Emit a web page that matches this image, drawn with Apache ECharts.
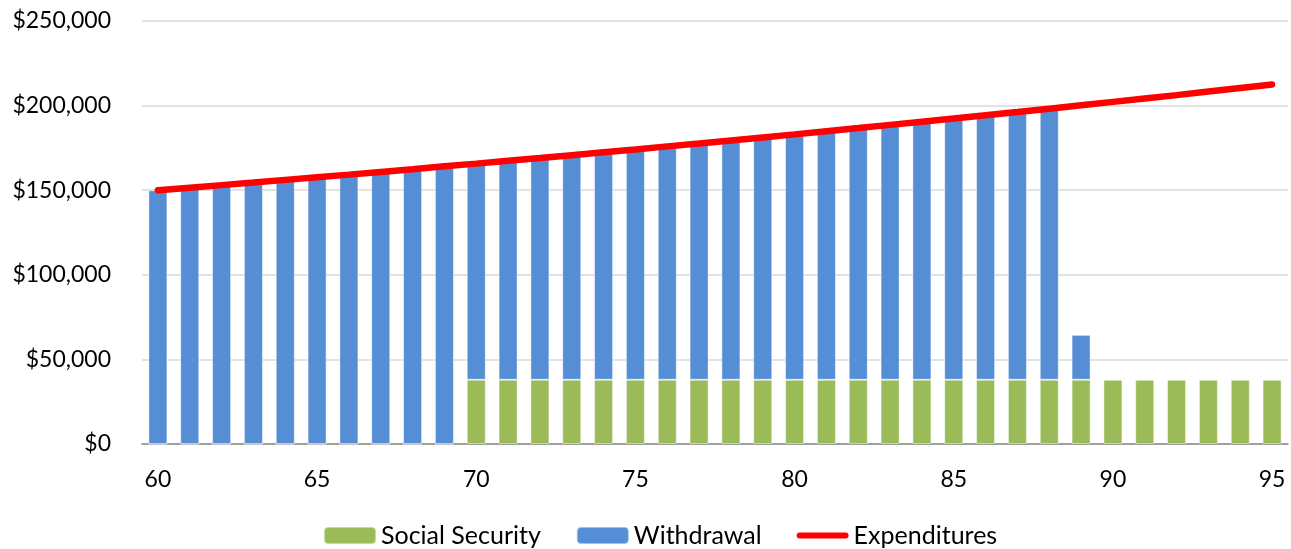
<!DOCTYPE html>
<html>
<head>
<meta charset="utf-8">
<script src="https://cdn.jsdelivr.net/npm/echarts@6/dist/echarts.min.js"></script>
<style>
  html, body { margin: 0; padding: 0; background: #fff; }
  #ec { width: 1291px; height: 549px; }
</style>
</head>
<body>
<div id="ec"></div>
<script>
var ages = [60, 61, 62, 63, 64, 65, 66, 67, 68, 69, 70, 71, 72, 73, 74, 75, 76, 77,
  78, 79, 80, 81, 82, 83, 84, 85, 86, 87, 88, 89, 90, 91, 92, 93, 94, 95];

var socialSecurity = [0, 0, 0, 0, 0, 0, 0, 0, 0, 0,
  38000, 38000, 38000, 38000, 38000, 38000, 38000, 38000, 38000, 38000,
  38000, 38000, 38000, 38000, 38000, 38000, 38000, 38000, 38000, 38000,
  38000, 38000, 38000, 38000, 38000, 38000];

var withdrawal = [150000, 151500, 153000, 154500, 156100, 157700, 159200, 160800, 162400, 164100,
  127700, 129400, 131000, 132700, 134400, 136100, 137900, 139600, 141400, 143200,
  145000, 146900, 148700, 150600, 152500, 154400, 156300, 158200, 160200, 26500,
  0, 0, 0, 0, 0, 0];

var expenditures = [150000, 151500, 153000, 154500, 156100, 157700, 159200, 160800, 162400, 164100,
  165700, 167400, 169000, 170700, 172400, 174100, 175900, 177600, 179400, 181200,
  183000, 184900, 186700, 188600, 190500, 192400, 194300, 196200, 198200, 200200,
  202200, 204200, 206200, 208300, 210400, 212500];

var yTicks = [0, 50000, 100000, 150000, 200000, 250000];

var font = "Lato, 'Liberation Sans', sans-serif";

var myChart = echarts.init(document.getElementById("ec"));

myChart.setOption({
  animation: false,
  textStyle: { fontFamily: font },
  grid: {
    left: 142,
    right: 3,
    top: 21,
    bottom: 105,
  },
  legend: {
    bottom: -4,
    left: 318,
    itemWidth: 52,
    itemHeight: 17,
    itemGap: 35,
    textStyle: { fontSize: 25, color: "#000", fontFamily: font },
    data: [
      "Social Security",
      "Withdrawal",
      {
        name: "Expenditures",
        icon: "path://M3.5,0 L56.5,0 A3.5,3.5 0 0 1 56.5,7 L3.5,7 A3.5,3.5 0 0 1 3.5,0 Z",
      },
    ],
  },
  xAxis: {
    type: "category",
    data: ages,
    axisTick: { show: false },
    axisLine: { lineStyle: { color: "#898989", width: 1.5 } },
    axisLabel: {
      interval: 4,
      fontSize: 23,
      color: "#000",
      margin: 24,
    },
  },
  yAxis: {
    type: "value",
    min: yTicks[0],
    max: yTicks[yTicks.length - 1],
    interval: 50000,
    axisLine: { show: false },
    axisTick: { show: false },
    splitLine: { lineStyle: { color: "#d9d9d9", width: 1.5 } },
    axisLabel: {
      fontSize: 23,
      color: "#000",
      margin: 31,
      formatter: function (v) {
        return "$" + v.toLocaleString("en-US");
      },
    },
  },
  series: [
    {
      name: "Social Security",
      type: "bar",
      stack: "total",
      barWidth: 19,
      data: socialSecurity,
      itemStyle: { color: "#9bbb59", borderColor: "rgba(255,255,255,0.45)", borderWidth: 1 },
    },
    {
      name: "Withdrawal",
      type: "bar",
      stack: "total",
      barWidth: 19,
      data: withdrawal,
      itemStyle: { color: "#558ed5", borderColor: "rgba(255,255,255,0.45)", borderWidth: 1 },
    },
    {
      name: "Expenditures",
      type: "line",
      data: expenditures,
      symbol: "none",
      z: 5,
      lineStyle: { color: "#ff0000", width: 6.5, cap: "round" },
      itemStyle: { color: "#ff0000" },
    },
  ],
});
</script>
</body>
</html>
